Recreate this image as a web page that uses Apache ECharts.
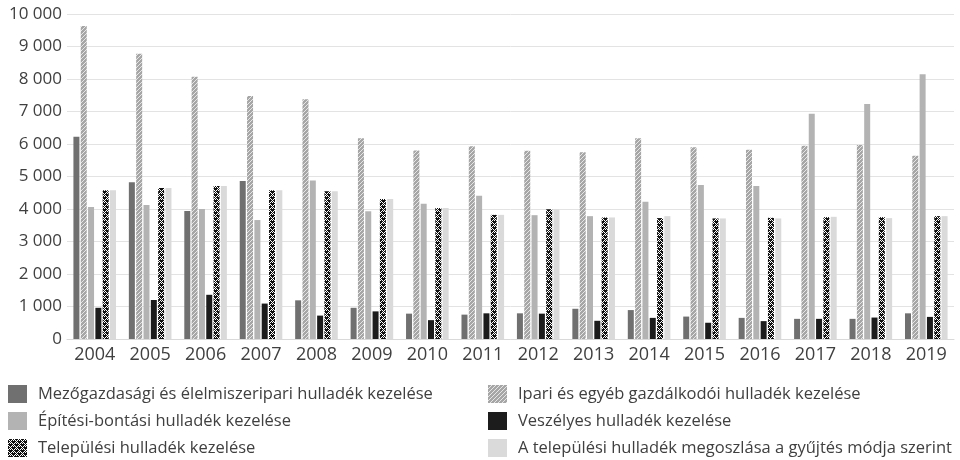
<!DOCTYPE html>
<html>
<head>
<meta charset="utf-8">
<script src="https://cdn.jsdelivr.net/npm/echarts@6/dist/echarts.min.js"></script>
<style>
    html, body { margin: 0; padding: 0; background: #fff; }
    #main { width: 960px; height: 460px; }
</style>
</head>
<body>
<div id="main"></div>
<script>
var years = ['2004', '2005', '2006', '2007', '2008', '2009', '2010', '2011', '2012', '2013', '2014', '2015', '2016', '2017', '2018', '2019'];
var seriesNames = [
    'Mezőgazdasági és élelmiszeripari hulladék kezelése',
    'Ipari és egyéb gazdálkodói hulladék kezelése',
    'Építési-bontási hulladék kezelése',
    'Veszélyes hulladék kezelése',
    'Települési hulladék kezelése',
    'A települési hulladék megoszlása a gyűjtés módja szerint'
];
var mezogazdasagi = [6220, 4820, 3940, 4860, 1190, 960, 780, 750, 790, 930, 890, 690, 650, 620, 620, 790];
var ipari = [9630, 8780, 8070, 7480, 7380, 6180, 5800, 5930, 5790, 5750, 6180, 5900, 5820, 5950, 5970, 5640];
var epitesi = [4060, 4120, 4000, 3660, 4880, 3930, 4160, 4410, 3810, 3780, 4220, 4740, 4710, 6930, 7230, 8150];
var veszelyes = [960, 1200, 1360, 1090, 720, 850, 580, 790, 780, 560, 650, 500, 550, 620, 660, 680];
var telepulesi = [4580, 4650, 4710, 4580, 4550, 4310, 4030, 3820, 3990, 3740, 3720, 3710, 3730, 3750, 3750, 3780];
var gyujtes = [4580, 4650, 4710, 4580, 4550, 4310, 4030, 3820, 3990, 3740, 3780, 3710, 3710, 3760, 3720, 3780];
var yTicks = [0, 1000, 2000, 3000, 4000, 5000, 6000, 7000, 8000, 9000, 10000];

// mintás kitöltések
function hatchPattern() {
    var c = document.createElement('canvas');
    c.width = 4; c.height = 4;
    var ctx = c.getContext('2d');
    ctx.fillStyle = '#a6a6a6';
    ctx.fillRect(0, 0, 4, 4);
    ctx.strokeStyle = '#e6e6e6';
    ctx.lineWidth = 1;
    ctx.beginPath();
    ctx.moveTo(0, 4); ctx.lineTo(4, 0);
    ctx.moveTo(-1, 1); ctx.lineTo(1, -1);
    ctx.moveTo(3, 5); ctx.lineTo(5, 3);
    ctx.stroke();
    return c;
}
function crossPattern() {
    var c = document.createElement('canvas');
    c.width = 6; c.height = 6;
    var ctx = c.getContext('2d');
    ctx.fillStyle = '#111111';
    ctx.fillRect(0, 0, 6, 6);
    ctx.fillStyle = '#ffffff';
    var pts = [[0, 0], [1, 1], [2, 2], [4, 0], [5, 5], [3, 3], [4, 4], [0, 4], [1, 3], [2, 4], [3, 1], [5, 1]];
    for (var i = 0; i < pts.length; i++) {
        ctx.fillRect(pts[i][0], pts[i][1], 1, 1);
    }
    return c;
}

var colors = [
    '#707070',
    {image: hatchPattern(), repeat: 'repeat'},
    '#b3b3b3',
    '#1c1c1c',
    {image: crossPattern(), repeat: 'repeat'},
    '#dadada'
];
var values = [mezogazdasagi, ipari, epitesi, veszelyes, telepulesi, gyujtes];

var series = [];
for (var i = 0; i < values.length; i++) {
    series.push({
        name: seriesNames[i],
        type: 'bar',
        barWidth: 6,
        barGap: '22%',
        itemStyle: {color: colors[i]},
        data: values[i]
    });
}

var fontFamily = '"Open Sans", "Noto Sans", sans-serif';
var legendText = {color: '#404040', fontSize: 16.5, fontFamily: fontFamily, padding: [0, 0, 0, 6]};

var myChart = echarts.init(document.getElementById('main'));
var option = {
    animation: false,
    grid: {left: 67, right: 6, top: 14, bottom: 121, containLabel: false},
    legend: [
        {
            orient: 'vertical', left: 8, top: 385, padding: 0, itemWidth: 19, itemHeight: 18, itemGap: 9,
            icon: 'rect', textStyle: legendText,
            data: [seriesNames[0], seriesNames[2], seriesNames[4]]
        },
        {
            orient: 'vertical', left: 488, top: 385, padding: 0, itemWidth: 19, itemHeight: 18, itemGap: 9,
            icon: 'rect', textStyle: legendText,
            data: [seriesNames[1], seriesNames[3], seriesNames[5]]
        }
    ],
    xAxis: {
        type: 'category',
        data: years,
        axisLine: {lineStyle: {color: '#d9d9d9'}},
        axisTick: {show: false},
        axisLabel: {color: '#404040', fontSize: 18, fontFamily: fontFamily, margin: 7}
    },
    yAxis: {
        type: 'value',
        min: yTicks[0],
        max: yTicks[yTicks.length - 1],
        interval: 1000,
        axisLine: {show: false},
        axisTick: {show: false},
        splitLine: {lineStyle: {color: '#e3e3e3'}},
        axisLabel: {
            color: '#404040', fontSize: 17, fontFamily: fontFamily, margin: 5,
            formatter: function (v) {
                return String(v).replace(/\B(?=(\d{3})+(?!\d))/g, ' ');
            }
        }
    },
    series: series
};
myChart.setOption(option);
</script>
</body>
</html>
